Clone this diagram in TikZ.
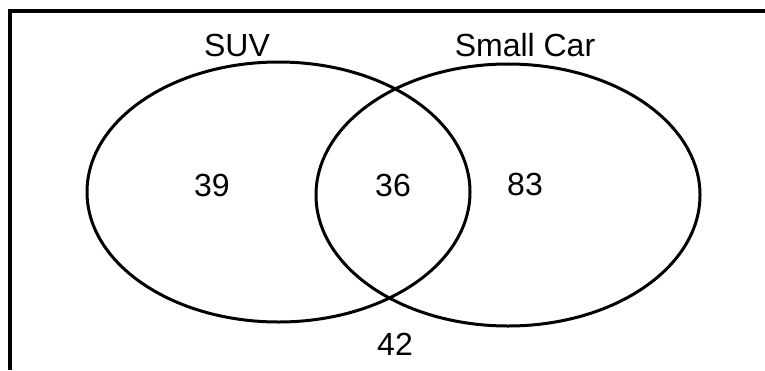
\documentclass[tikz,border=0pt]{standalone}
\usepackage{fontspec}
\setmainfont{Liberation Sans}
\usetikzlibrary{shapes.geometric}
\begin{document}
\begin{tikzpicture}[x=1pt,y=-1pt,
  setline/.style={line width=3pt, draw=black},
  frameline/.style={line width=3.4pt, draw=black},
  lbl/.style={font=\fontsize{32}{32}\selectfont, inner sep=0pt, anchor=base}]
  \useasboundingbox (0,0) rectangle (765,370);
  % open frame: top and left edges
  \coordinate (fl) at (10,370);
  \coordinate (fc) at (10,11);
  \coordinate (fr) at (765,11);
  \draw[frameline, line join=miter] (fl) -- (fc) -- (fr);
  % the two sets
  \node[setline, ellipse, minimum width=383pt, minimum height=260pt, inner sep=0pt, draw] (suv) at (278.5,192) {};
  \node[setline, ellipse, minimum width=384pt, minimum height=262pt, inner sep=0pt, draw] (car) at (508,195) {};
  % set names and counts
  \node[lbl] (suvname) at (237,56) {SUV};
  \node[lbl] (carname) at (525,56) {Small Car};
  \node[lbl] (n39) at (212,196) {39};
  \node[lbl] (n36) at (393,196) {36};
  \node[lbl] (n83) at (525,195) {83};
  \node[lbl] (n42) at (395,355) {42};
\end{tikzpicture}
\end{document}
